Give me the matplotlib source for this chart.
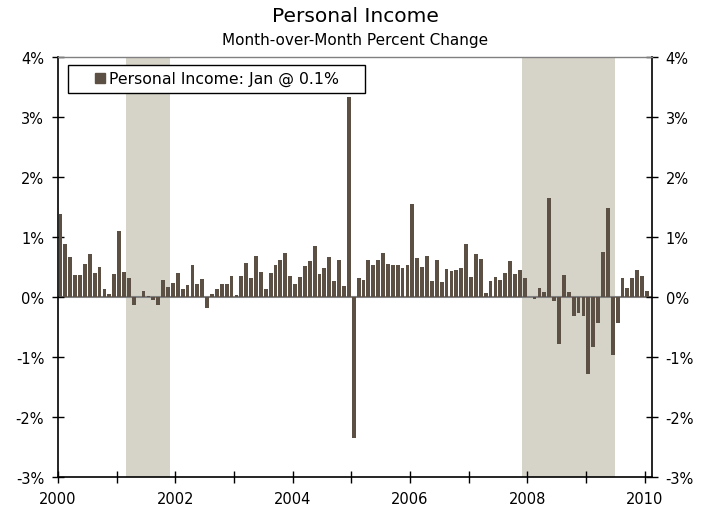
import numpy as np
import matplotlib.pyplot as plt
from matplotlib.lines import Line2D
from matplotlib.ticker import FuncFormatter, MultipleLocator

# monthly % change in personal income, Jan 2000 .. Jan 2010
income_mom = [
    1.38, 0.88, 0.67, 0.37, 0.37, 0.55, 0.72, 0.40, 0.50, 0.13, 0.05, 0.38,   # 2000
    1.10, 0.42, 0.32, -0.13, 0.00, 0.10, 0.01, -0.05, -0.13, 0.28, 0.16, 0.24,  # 2001
    0.40, 0.13, 0.20, 0.53, 0.22, 0.30, -0.18, 0.05, 0.13, 0.22, 0.22, 0.35,  # 2002
    0.03, 0.35, 0.57, 0.32, 0.68, 0.42, 0.13, 0.40, 0.53, 0.62, 0.73, 0.35,   # 2003
    0.22, 0.33, 0.52, 0.60, 0.85, 0.38, 0.48, 0.67, 0.27, 0.62, 0.18, 3.33,   # 2004
    -2.35, 0.32, 0.28, 0.62, 0.53, 0.62, 0.73, 0.55, 0.53, 0.53, 0.48, 0.53,  # 2005
    1.55, 0.65, 0.50, 0.68, 0.27, 0.62, 0.25, 0.47, 0.43, 0.45, 0.48, 0.88,   # 2006
    0.33, 0.72, 0.63, 0.07, 0.27, 0.33, 0.28, 0.40, 0.60, 0.38, 0.45, 0.32,   # 2007
    0.00, -0.04, 0.15, 0.08, 1.65, -0.06, -0.79, 0.37, 0.08, -0.31, -0.26, -0.31,  # 2008
    -1.29, -0.84, -0.44, 0.75, 1.48, -0.96, -0.44, 0.32, 0.15, 0.32, 0.45, 0.35,   # 2009
    0.10,  # 2010
]
start_year = 2000
# recessions as (first month index, last month index + 1)
recessions = [(14, 23), (95, 114)]

bar_color = '#5c5045'
shade_color = '#d6d3c8'

n = len(income_mom)
x = start_year + (np.arange(n) + 0.5) / 12

fig = plt.figure(figsize=(7.12, 5.10), dpi=100)
ax = fig.add_axes([0.0815, 0.0627, 0.834, 0.8235])

for a, b in recessions:
    ax.axvspan(start_year + a / 12, start_year + b / 12, color=shade_color, lw=0, zorder=0)

ax.axhline(0, color='#808080', lw=1.5, zorder=1)
ax.bar(x, income_mom, width=0.78 / 12, color=bar_color, zorder=2)

ax.set_xlim(start_year, start_year + 121.5 / 12)
ax.set_ylim(-3, 4)
ax.yaxis.set_major_locator(MultipleLocator(1))
ax.yaxis.set_major_formatter(FuncFormatter(lambda v, p: f'{v:.0f}%'))
years = np.arange(2000, 2011)
ax.set_xticks(years)
ax.set_xticklabels([str(y) if y % 2 == 0 else '' for y in years])

ax.tick_params(axis='both', direction='inout', length=8, width=1, labelsize=10.5)
ax.tick_params(axis='y', right=True, labelright=True, pad=6)
ax.tick_params(axis='x', pad=6)

for side in ['left', 'right', 'bottom']:
    ax.spines[side].set_color('black')
    ax.spines[side].set_linewidth(1.2)
ax.spines['top'].set_color('#808080')
ax.spines['top'].set_linewidth(1.0)

handle = Line2D([], [], marker='s', linestyle='none', markersize=7.5, color=bar_color)
leg = ax.legend([handle], ['Personal Income: Jan @ 0.1%    '], loc='upper left',
                bbox_to_anchor=(0.017, 0.981), borderaxespad=0, fontsize=11.3,
                handlelength=3.3, handletextpad=-1.1, fancybox=False, framealpha=1,
                edgecolor='black', borderpad=0.4)
leg.get_frame().set_linewidth(1.0)

fig.text(0.4986, 0.968, 'Personal Income', ha='center', va='center', fontsize=14.5)
fig.text(0.4986, 0.920, 'Month-over-Month Percent Change', ha='center', va='center', fontsize=11)

fig.savefig('out.png', dpi=100)
